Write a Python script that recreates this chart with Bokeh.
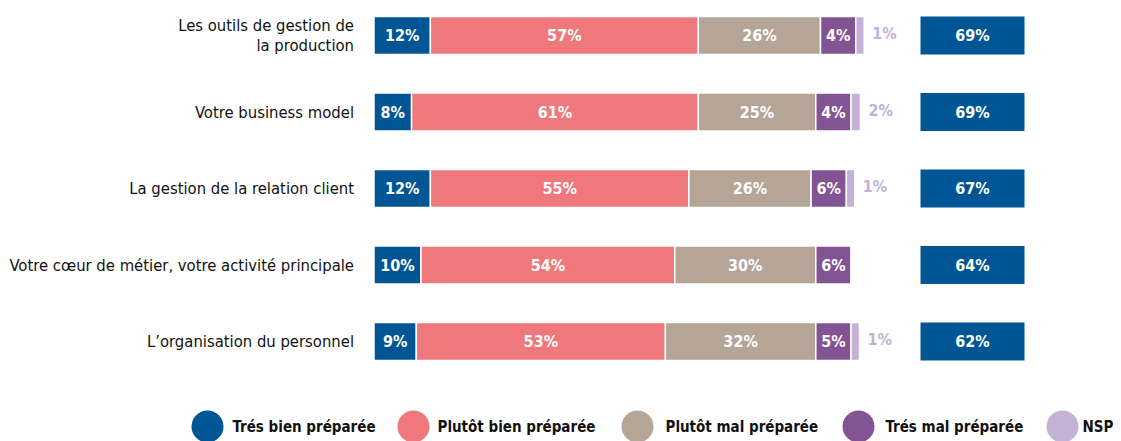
from bokeh.plotting import figure
from bokeh.models import Range1d, ColumnDataSource
from bokeh.core.properties import value
from bokeh.embed import file_html
from bokeh.resources import INLINE

categories = [
    "Les outils de gestion de\nla production",
    "Votre business model",
    "La gestion de la relation client",
    "Votre cœur de métier, votre activité principale",
    "L’organisation du personnel",
]
tres_bien = [12, 8, 12, 10, 9]
plutot_bien = [57, 61, 55, 54, 53]
plutot_mal = [26, 25, 26, 30, 32]
tres_mal = [4, 4, 6, 6, 5]
nsp = [1, 2, 1, 0, 1]
total_prepared = [69, 69, 67, 64, 62]

series_names = ["Trés bien préparée", "Plutôt bien préparée", "Plutôt mal préparée",
                "Trés mal préparée", "NSP"]
colors = ["#005694", "#EF787C", "#B5A597", "#835493", "#C5B0D6"]

FONT = "DejaVu Sans Condensed"

W, H = 1121, 441
PX = 4.7            # pixels per percent
X0 = -373.5 / PX
ROW = 76.5
Y_TOP = 35 / ROW

p = figure(width=W, height=H, output_backend="svg", toolbar_location=None,
           x_range=Range1d(X0, X0 + W / PX),
           y_range=Range1d((H - 35) / ROW, -Y_TOP),
           min_border=0)
p.axis.visible = False
p.grid.visible = False
p.outline_line_color = None
p.background_fill_color = "white"

ys = list(range(len(categories)))
series = [tres_bien, plutot_bien, plutot_mal, tres_mal, nsp]
# as in the original layout, very small segments get a minimum drawn width
min_width = [7.5, 7.5, 7.5, 7.5, 1.8]
left = [0] * len(categories)
bar_h = 38 / ROW
for k, vals in enumerate(series):
    widths = [max(v, min_width[k]) if v > 0 else 0 for v in vals]
    right = [l + w for l, w in zip(left, widths)]
    src = ColumnDataSource(dict(y=ys, left=left, right=right, v=vals,
                                mid=[(l + r) / 2 for l, r in zip(left, right)],
                                lab=[f"{v}%" if v > 0 else "" for v in vals]))
    p.hbar(y="y", left="left", right="right", height=bar_h, source=src,
           fill_color=colors[k], line_color="white", line_width=1.5)
    if k < 4:
        p.text(x="mid", y="y", text="lab", source=src, text_color="white",
               text_font=value(FONT), text_font_style="bold", text_font_size="16px",
               text_align="center", text_baseline="middle")
    else:
        p.text(x="right", y="y", text="lab", source=src, text_color=colors[4],
               text_font=value(FONT), text_font_style="bold", text_font_size="16px",
               text_align="left", text_baseline="middle", x_offset=8, y_offset=-2)
    left = right

# totals column
tot_l, tot_r = (920 / PX) + X0, (1024 / PX) + X0
tsrc = ColumnDataSource(dict(y=ys, t=[f"{v}%" for v in total_prepared]))
p.hbar(y="y", left=tot_l, right=tot_r, height=bar_h, source=tsrc,
       fill_color=colors[0], line_color=None)
p.text(x=(tot_l + tot_r) / 2, y="y", text="t", source=tsrc, text_color="white",
       text_font=value(FONT), text_font_style="bold", text_font_size="16px",
       text_align="center", text_baseline="middle")

# category labels
csrc = ColumnDataSource(dict(y=ys, c=categories))
p.text(x=0, y="y", text="c", source=csrc, text_color="#111111",
       text_font=value(FONT), text_font_size="16.5px", text_align="right",
       text_baseline="middle", x_offset=-20, text_line_height=1.1)

# legend
leg_px = [207, 413, 637, 858, 1062]
txt_px = [232, 437, 665, 885, 1082]
leg_y = (426 - 35) / ROW
lsrc = ColumnDataSource(dict(x=[v / PX + X0 for v in leg_px],
                             tx=[v / PX + X0 for v in txt_px],
                             y=[leg_y] * 5, c=colors, n=series_names))
p.scatter(x="x", y="y", size=32, fill_color="c", line_color=None, source=lsrc)
p.text(x="tx", y="y", text="n", source=lsrc, text_color="#111111",
       text_font=value(FONT), text_font_style="bold", text_font_size="15px",
       text_align="left", text_baseline="middle")

open("out.html", "w").write(file_html(p, INLINE))
